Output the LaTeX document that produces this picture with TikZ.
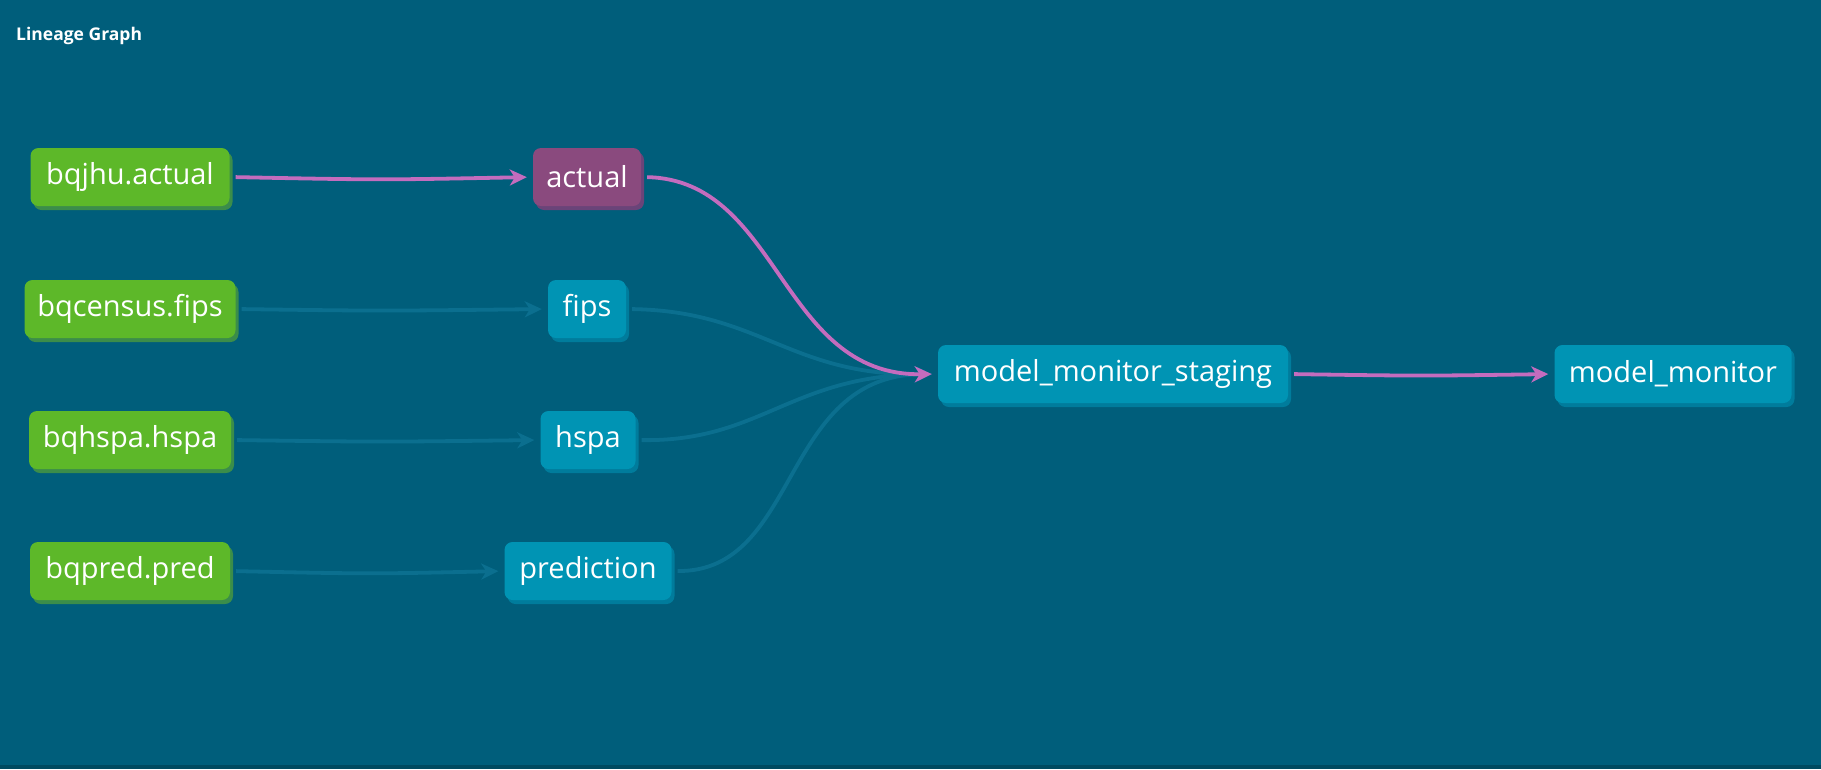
\documentclass[tikz,border=0pt]{standalone}
\usepackage{fontspec}
\setmainfont{Open Sans}
\usetikzlibrary{arrows.meta,shadows}
\definecolor{bgc}{HTML}{005E7B}
\definecolor{bandc}{HTML}{004A60}
\definecolor{greenc}{HTML}{5DB829}
\definecolor{greensh}{HTML}{3B8D4A}
\definecolor{purplec}{HTML}{8A4A7E}
\definecolor{purplesh}{HTML}{6A4479}
\definecolor{bluec}{HTML}{0094B4}
\definecolor{bluesh}{HTML}{007C9C}
\definecolor{pinkc}{HTML}{C46CBE}
\definecolor{faintc}{HTML}{0B6F8F}
\tikzset{
  box/.style={rounded corners=8pt, minimum height=58pt, inner sep=0pt, text=white,
    font=\fontsize{29}{34}\selectfont},
  srcbox/.style={box, fill=greenc, drop shadow={shadow xshift=3pt, shadow yshift=-4pt, fill=greensh, opacity=1}},
  hotbox/.style={box, fill=purplec, drop shadow={shadow xshift=3pt, shadow yshift=-4pt, fill=purplesh, opacity=1}},
  modbox/.style={box, fill=bluec, drop shadow={shadow xshift=3pt, shadow yshift=-4pt, fill=bluesh, opacity=1}},
  hotedge/.style={draw=pinkc, line width=3.8pt, -{Stealth[length=17pt,width=16pt,inset=5pt]}, shorten <=6pt, shorten >=6pt},
  faintedge/.style={draw=faintc, line width=3.8pt, -{Stealth[length=17pt,width=16pt,inset=5pt]}, shorten <=6pt, shorten >=6pt},
}
\begin{document}
\begin{tikzpicture}[x=1pt,y=-1pt]
\fill[bgc] (0,0) rectangle (1821,769);
\fill[bandc] (0,765) rectangle (1821,769);
\useasboundingbox (0,0) rectangle (1821,769);
\node[anchor=base west, text=white, inner sep=0pt, font=\fontsize{17.5}{20}\selectfont\bfseries] (title) at (16,40) {Lineage Graph};

\node[srcbox, minimum width=199pt] (bqjhu) at (130,177) {bqjhu.actual};
\node[hotbox, minimum width=108pt] (actual) at (587,177) {actual};
\node[srcbox, minimum width=211pt] (bqcensus) at (130,309) {bqcensus.fips};
\node[modbox, minimum width=78pt] (fips) at (587,309) {fips};
\node[srcbox, minimum width=202pt] (bqhspa) at (130,440) {bqhspa.hspa};
\node[modbox, minimum width=95pt] (hspa) at (588,440) {hspa};
\node[srcbox, minimum width=200pt] (bqpred) at (130,571) {bqpred.pred};
\node[modbox, minimum width=167pt] (prediction) at (588,571) {prediction};
\node[modbox, minimum width=350pt] (staging) at (1113,374) {model\_monitor\_staging};
\node[modbox, minimum width=237pt] (monitor) at (1673,374) {model\_monitor};

\draw[faintedge] (bqcensus.east) .. controls (380,311) .. (fips.west);
\draw[faintedge] (bqhspa.east) .. controls (380,442) .. (hspa.west);
\draw[faintedge] (bqpred.east) .. controls (370,574) .. (prediction.west);
\draw[faintedge] (fips.east) .. controls (760,311) and (790,376) .. (staging.west);
\draw[faintedge] (hspa.east) .. controls (760,442) and (790,376) .. (staging.west);
\draw[faintedge] (prediction.east) .. controls (800,572) and (780,376) .. (staging.west);
\draw[hotedge] (bqjhu.east) .. controls (380,180) .. (actual.west);
\draw[hotedge] (actual.east) .. controls (780,180) and (780,376) .. (staging.west);
\draw[hotedge] (staging.east) .. controls (1420,376) .. (monitor.west);
\end{tikzpicture}
\end{document}
